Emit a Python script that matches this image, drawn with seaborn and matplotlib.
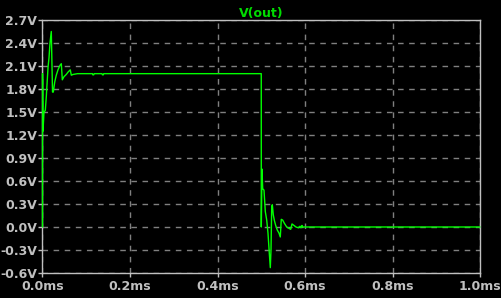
import matplotlib
matplotlib.use("Agg")
import matplotlib.pyplot as plt
import seaborn as sns
import pandas as pd
from matplotlib.ticker import FuncFormatter

# Time (ms) and V(out) (V)
t_ms = [0.0, 0.0001, 0.0011, 0.0034, 0.0064, 0.0087, 0.0126, 0.0149, 0.0171, 0.0201,
        0.0229, 0.0247, 0.0279, 0.0315, 0.0354, 0.0400, 0.0430, 0.0453, 0.0490, 0.0544,
        0.0583, 0.0635, 0.0658, 0.0700, 0.0800, 0.1140, 0.1150, 0.1170, 0.1180, 0.1360,
        0.1370, 0.1390, 0.1400, 0.5000,
        0.5001, 0.5017, 0.5033, 0.5063, 0.5093, 0.5125, 0.5154, 0.5184, 0.5207, 0.5223,
        0.5239, 0.5253, 0.5275, 0.5298, 0.5330, 0.5367, 0.5406, 0.5435, 0.5458, 0.5490,
        0.5527, 0.5582, 0.5641, 0.5673, 0.5703, 0.5749, 0.5794, 0.5847, 0.5886, 0.5909,
        0.5931, 0.5947, 1.0]
v_out = [0.0, 2.0, 1.25, 1.50, 1.52, 1.70, 2.08, 2.21, 2.40, 2.55,
         1.76, 1.76, 1.89, 1.98, 2.05, 2.11, 2.13, 1.92, 1.96, 1.99,
         2.02, 2.05, 1.98, 1.99, 2.0, 2.0, 1.985, 1.985, 2.0, 2.0,
         1.985, 1.985, 2.0, 2.0,
         0.0, 0.756, 0.50, 0.48, 0.20, 0.09, -0.08, -0.34, -0.53, -0.30,
         0.26, 0.29, 0.16, 0.09, 0.02, -0.04, -0.08, -0.13, 0.10, 0.09,
         0.05, 0.0, -0.02, -0.03, 0.04, 0.02, 0.0, -0.01, 0.01, -0.01,
         0.02, 0.0, 0.0]

x_ticks = [0.0, 0.2, 0.4, 0.6, 0.8, 1.0]
y_ticks = [-0.6, -0.3, 0.0, 0.3, 0.6, 0.9, 1.2, 1.5, 1.8, 2.1, 2.4, 2.7]
trace_name = "V(out)"

df = pd.DataFrame({"t": t_ms, "v": v_out})

sns.set_theme(style="dark")
plt.rcParams["font.family"] = ["DejaVu Sans"]

fig = plt.figure(figsize=(5.02, 2.98), dpi=100, facecolor="#000000")
ax = fig.add_axes([42.5 / 502, 1 - 273 / 298, (480 - 42.5) / 502, (273 - 20) / 298])
ax.set_facecolor("#000000")

sns.lineplot(data=df, x="t", y="v", ax=ax, color="#00ff00", linewidth=1.0,
             sort=False, estimator=None, zorder=5)
for ln in ax.get_lines():
    ln.set_clip_on(False)

ax.set_xlim(0, 1.0)
ax.set_ylim(-0.6, 2.7)
ax.set_xticks(x_ticks)
ax.set_yticks(y_ticks)
ax.xaxis.set_major_formatter(FuncFormatter(lambda v, p: f"{v:.1f}ms"))
ax.yaxis.set_major_formatter(FuncFormatter(lambda v, p: f"{v:.1f}V"))
ax.set_xlabel("")
ax.set_ylabel("")

ax.grid(True, color="#808080", linestyle=(0, (4, 4)), linewidth=1.0)
for s in ax.spines.values():
    s.set_visible(True)
    s.set_color("#c0c0c0")
    s.set_linewidth(1.0)
    s.set_zorder(2)

ax.tick_params(axis="both", colors="#c0c0c0", labelcolor="#c0c0c0", labelsize=9,
               length=3, width=1.0, direction="out")
ax.tick_params(axis="x", bottom=True, pad=2)
ax.tick_params(axis="y", left=True, pad=1)
for lab in ax.get_xticklabels() + ax.get_yticklabels():
    lab.set_fontweight("bold")

ax.set_title(trace_name, color="#00dd00", fontsize=9, fontweight="bold", pad=2)

fig.savefig("out.png", dpi=100, facecolor="#000000")
